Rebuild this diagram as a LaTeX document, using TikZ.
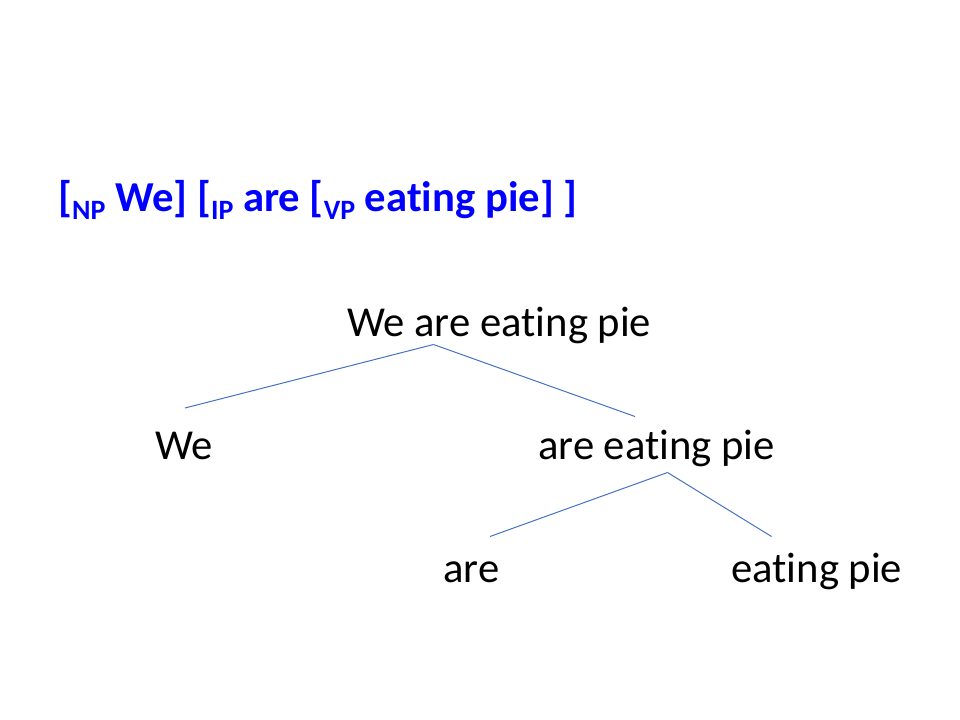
\documentclass[tikz,border=0pt]{standalone}
\usepackage{fontspec}
\setmainfont[Ligatures={NoCommon}]{Carlito}
\usetikzlibrary{calc}
\definecolor{titleblue}{HTML}{0000FF}
\definecolor{branchblue}{HTML}{4472C4}
\newcommand{\mysub}[1]{\raisebox{-5.3pt}{\fontsize{21}{21}\selectfont #1}}
\tikzset{
  word/.style={inner sep=0pt, anchor=base west, font=\fontsize{32}{38}\selectfont, text=black},
  titletext/.style={inner sep=0pt, anchor=base west, font=\fontsize{32}{38}\selectfont\bfseries, text=titleblue},
  branch/.style={draw=branchblue, line width=0.75pt}
}
\begin{document}
\begin{tikzpicture}[x=0.75pt,y=-0.75pt]
\useasboundingbox (0,0) rectangle (960,720);
\node[titletext] (title) at (58,212) {[\mysub{NP} We] [\mysub{IP} are [\mysub{VP} eating pie] ]};
\node[word] (root) at (347,336) {We are eating pie};
\node[word] (we) at (155,459) {We};
\node[word] (vp) at (538,459) {are eating pie};
\node[word] (are) at (443,582) {are};
\node[word] (eat) at (731,582) {eating pie};
\coordinate (rootapex) at ($(root.base west)+(86.5,8.5)$);
\coordinate (wetop) at ($(we.base west)+(30,-51)$);
\coordinate (vptop) at ($(vp.base west)+(97,-42.5)$);
\coordinate (vpapex) at ($(vp.base west)+(129.5,13.5)$);
\coordinate (aretop) at ($(are.base west)+(47,-45.5)$);
\coordinate (eattop) at ($(eat.base west)+(40.5,-45.5)$);
\draw[branch] (rootapex) -- (wetop);
\draw[branch] (rootapex) -- (vptop);
\draw[branch] (vpapex) -- (aretop);
\draw[branch] (vpapex) -- (eattop);
\end{tikzpicture}
\end{document}
